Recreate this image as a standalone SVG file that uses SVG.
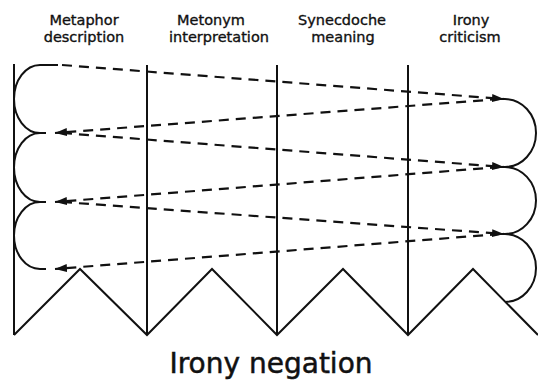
<svg xmlns="http://www.w3.org/2000/svg" width="538" height="380" viewBox="0 0 538 380">
<style>
.lbl{font-family:"DejaVu Sans","Liberation Sans",sans-serif;font-size:14.5px;fill:#111;stroke:#111;stroke-width:0.35;text-anchor:middle}
.title{font-family:"DejaVu Sans","Liberation Sans",sans-serif;font-size:28px;fill:#111;stroke:#111;stroke-width:0.5;text-anchor:middle}
.solid{fill:none;stroke:#111;stroke-width:2}
.dash{fill:none;stroke:#111;stroke-width:2.2;stroke-dasharray:10 7}
</style>
<defs>
<marker id="ah" viewBox="0 0 12 8" refX="12" refY="4" markerWidth="12" markerHeight="8" markerUnits="userSpaceOnUse" orient="auto">
<path d="M0,0 L12,4 L0,8 Z" fill="#111"/>
</marker>
</defs>
<rect width="538" height="380" fill="#fff"/>
<g id="labels">
<text class="lbl" x="84" y="25">Metaphor</text>
<text class="lbl" x="84" y="42">description</text>
<text class="lbl" x="211" y="25">Metonym</text>
<text class="lbl" x="219" y="42">interpretation</text>
<text class="lbl" x="342" y="25">Synecdoche</text>
<text class="lbl" x="343" y="42">meaning</text>
<text class="lbl" x="471" y="25">Irony</text>
<text class="lbl" x="470" y="42">criticism</text>
</g>
<g id="frame">
<line class="solid" x1="14" y1="64" x2="14" y2="335"/>
<line class="solid" x1="147" y1="65" x2="147" y2="335"/>
<line class="solid" x1="277" y1="65" x2="277" y2="335"/>
<line class="solid" x1="408" y1="65" x2="408" y2="335"/>
<polyline class="solid" points="14,335 80,269 147,335 212,269 277,335 343,269 408,335 473,269 538,335"/>
</g>
<g id="left-loops">
<path class="solid" d="M58,65 L40,65 A26,34 0 0 0 40,133 L46,133"/>
<path class="solid" d="M40,133 A26,34.5 0 0 0 40,202 L46,202"/>
<path class="solid" d="M40,202 A26,33.5 0 0 0 40,269 L46,269"/>
</g>
<g id="right-loops">
<path class="solid" d="M498,99 L505,99 A31,34 0 0 1 505,167"/>
<path class="solid" d="M498,167 L505,167 A31,33.5 0 0 1 505,234"/>
<path class="solid" d="M498,234 L505,234 A31,34 0 0 1 505,302"/>
</g>
<g id="connectors">
<line class="dash" x1="62" y1="65" x2="504" y2="99" marker-end="url(#ah)"/>
<line class="dash" x1="500" y1="99" x2="55" y2="133" marker-end="url(#ah)"/>
<line class="dash" x1="62" y1="133" x2="504" y2="167" marker-end="url(#ah)"/>
<line class="dash" x1="500" y1="167" x2="55" y2="202" marker-end="url(#ah)"/>
<line class="dash" x1="62" y1="202" x2="504" y2="234" marker-end="url(#ah)"/>
<line class="dash" x1="500" y1="234" x2="55" y2="269" marker-end="url(#ah)"/>
</g>
<g id="title">
<text class="title" x="271" y="373">Irony negation</text>
</g>
</svg>
